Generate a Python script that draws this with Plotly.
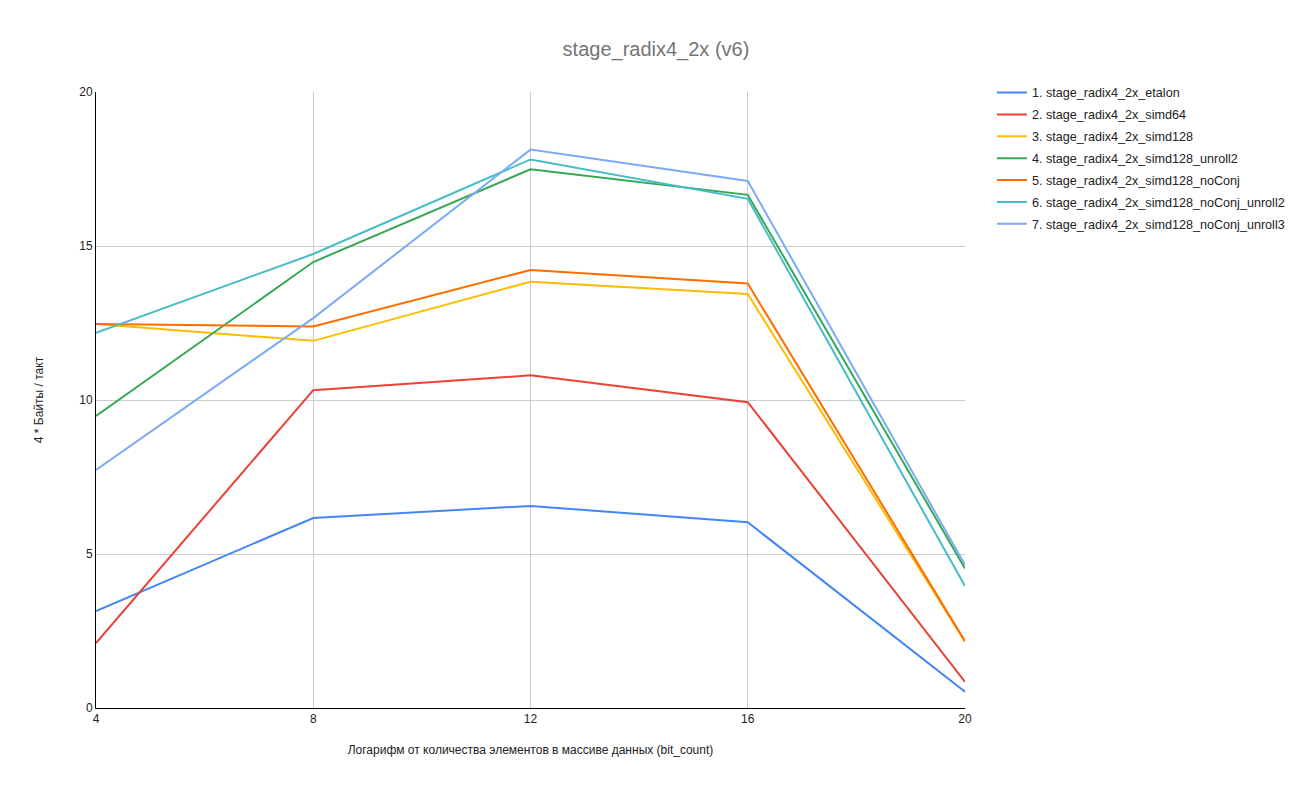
import plotly.graph_objects as go

bit_count = [4, 8, 12, 16, 20]
names = [
    "1. stage_radix4_2x_etalon",
    "2. stage_radix4_2x_simd64",
    "3. stage_radix4_2x_simd128",
    "4. stage_radix4_2x_simd128_unroll2",
    "5. stage_radix4_2x_simd128_noConj",
    "6. stage_radix4_2x_simd128_noConj_unroll2",
    "7. stage_radix4_2x_simd128_noConj_unroll3",
]
etalon = [3.15, 6.17, 6.56, 6.03, 0.53]
simd64 = [2.11, 10.32, 10.80, 9.93, 0.85]
simd128 = [12.47, 11.92, 13.84, 13.44, 2.15]
simd128_unroll2 = [9.48, 14.48, 17.49, 16.66, 4.53]
simd128_noConj = [12.47, 12.39, 14.22, 13.78, 2.17]
simd128_noConj_unroll2 = [12.18, 14.74, 17.81, 16.53, 3.96]
simd128_noConj_unroll3 = [7.73, 12.66, 18.13, 17.11, 4.64]
series = [etalon, simd64, simd128, simd128_unroll2, simd128_noConj,
          simd128_noConj_unroll2, simd128_noConj_unroll3]
colors = ["#4285F4", "#EA4335", "#FBBC04", "#34A853", "#FF6D01", "#46BDC6", "#7BAAF7"]

fig = go.Figure()
for i, (n, s, c) in enumerate(zip(names, series, colors)):
    fig.add_trace(go.Scatter(x=bit_count, y=s, name=n, mode="lines", legendgroup=f"g{i}",
                             line=dict(color=c, width=2)))

fig.update_layout(
    width=1300, height=795,
    paper_bgcolor="white", plot_bgcolor="white",
    font=dict(family="Arial, Liberation Sans, sans-serif", size=12, color="#222222"),
    title=dict(text="stage_radix4_2x (v6)", x=0.5046, xanchor="center", y=0.938, yanchor="middle",
               font=dict(size=20, color="#757575")),
    margin=dict(l=96, r=335, t=92, b=87, autoexpand=False),
    legend=dict(x=1.031, y=1.023, xanchor="left", yanchor="top", font=dict(size=12.6, color="#222222"),
                itemwidth=30, tracegroupgap=2.5),
    showlegend=True,
)
fig.update_xaxes(range=[4, 20], tickvals=[4, 8, 12, 16, 20], showgrid=True, gridcolor="#cccccc",
                 showline=True, linecolor="#000000", linewidth=1, zeroline=False,
                 title=dict(text="Логарифм от количества элементов в массиве данных (bit_count)",
                            font=dict(size=12, color="#222222"), standoff=20),
                 ticks="", tickfont=dict(size=12, color="#222222"))
fig.update_yaxes(range=[0, 20], tickvals=[0, 5, 10, 15, 20], showgrid=True, gridcolor="#cccccc",
                 showline=True, linecolor="#000000", linewidth=1, zeroline=False,
                 title=dict(text="4 * Байты / такт", font=dict(size=12, color="#222222"), standoff=33),
                 ticks="", tickfont=dict(size=12, color="#222222"))

fig.write_html("out.html")
